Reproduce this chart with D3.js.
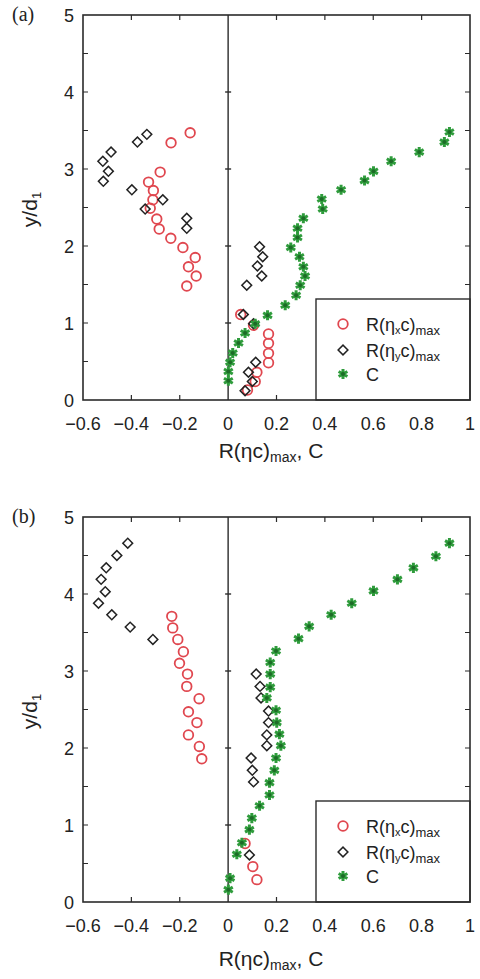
<!DOCTYPE html>
<html>
<head>
<meta charset="utf-8">
<script src="https://cdn.jsdelivr.net/npm/d3@7"></script>
<style>
  body { margin: 0; background: #fff; }
  svg { display: block; }
</style>
</head>
<body>
<div id="chart"></div>
<script>
// tick labels
const xTicks = [-0.6, -0.4, -0.2, 0, 0.2, 0.4, 0.6, 0.8, 1];
const yTicks = [0, 1, 2, 3, 4, 5];

// panel (a) : [R(eta c)max or C, y/d1]
const rxA = [[-0.157,3.47],[-0.236,3.34],[-0.281,2.96],[-0.329,2.83],[-0.309,2.72],[-0.311,2.60],
  [-0.322,2.49],[-0.295,2.35],[-0.285,2.22],[-0.237,2.10],[-0.187,1.98],[-0.136,1.85],
  [-0.164,1.73],[-0.132,1.61],[-0.171,1.48],
  [0.052,1.11],[0.105,0.97],[0.167,0.857],[0.167,0.736],[0.167,0.606],[0.167,0.484],
  [0.119,0.36],[0.112,0.24],[0.08,0.13]];
const ryA = [[-0.336,3.45],[-0.375,3.35],[-0.484,3.22],[-0.518,3.10],[-0.495,2.97],[-0.516,2.84],
  [-0.398,2.73],[-0.270,2.60],[-0.343,2.48],[-0.171,2.36],[-0.171,2.23],
  [0.130,1.99],[0.143,1.86],[0.121,1.74],[0.139,1.61],[0.077,1.49],[0.063,1.11],
  [0.105,0.99],[0.114,0.49],[0.084,0.36],[0.100,0.24],[0.070,0.12]];
const cA = [[0.915,3.48],[0.894,3.35],[0.790,3.22],[0.674,3.10],[0.601,2.97],[0.564,2.85],
  [0.467,2.73],[0.387,2.61],[0.391,2.48],[0.311,2.36],[0.287,2.23],[0.287,2.11],
  [0.259,1.98],[0.295,1.86],[0.311,1.73],[0.318,1.61],[0.298,1.49],[0.281,1.36],
  [0.236,1.23],[0.163,1.10],[0.112,0.99],[0.070,0.87],[0.043,0.74],[0.019,0.61],
  [0.008,0.49],[0.001,0.37],[0.001,0.25]];

// panel (b)
const rxB = [[-0.233,3.71],[-0.229,3.56],[-0.208,3.41],[-0.185,3.25],[-0.201,3.10],[-0.168,2.96],
  [-0.171,2.80],[-0.120,2.64],[-0.164,2.47],[-0.129,2.33],[-0.164,2.17],[-0.119,2.02],
  [-0.109,1.86],
  [0.070,0.76],[0.102,0.46],[0.119,0.29]];
const ryB = [[-0.415,4.66],[-0.460,4.50],[-0.504,4.34],[-0.525,4.19],[-0.508,4.03],[-0.536,3.88],
  [-0.481,3.73],[-0.405,3.57],[-0.311,3.41],
  [0.116,2.96],[0.132,2.80],[0.136,2.65],[0.167,2.48],[0.167,2.33],[0.160,2.17],[0.160,2.03],
  [0.095,1.87],[0.100,1.71],[0.105,1.56],[0.088,0.61]];
const cB = [[0.915,4.66],[0.859,4.49],[0.766,4.34],[0.700,4.19],[0.601,4.04],[0.511,3.88],
  [0.426,3.73],[0.335,3.58],[0.291,3.42],[0.198,3.26],[0.174,3.11],[0.174,2.96],
  [0.174,2.79],[0.160,2.65],[0.198,2.49],[0.201,2.33],[0.212,2.18],[0.218,2.03],
  [0.198,1.87],[0.191,1.71],[0.171,1.55],[0.171,1.39],[0.130,1.25],[0.098,1.09],
  [0.088,0.94],[0.057,0.77],[0.036,0.62],[0.008,0.31],[0.001,0.16]];

const W = 480, H = 979;
const red = "#e0474f", green = "#2f9c3c", dark = "#2b2b2b";
const font = "'Liberation Sans', Arial, Helvetica, sans-serif";

const svg = d3.select("#chart").append("svg")
  .attr("width", W).attr("height", H)
  .attr("viewBox", `0 0 ${W} ${H}`);

const diamond = d3.symbol().type(d3.symbolSquare).size(48)();
const star = d3.symbol().type(d3.symbolAsterisk).size(72)();

const drawPanel = (label, top, bottom, titleY, rx, ry, c) => {
  const x = d3.scaleLinear().domain([-0.6, 1]).range([83, 470]);
  const y = d3.scaleLinear().domain([0, 5]).range([bottom, top]);
  const g = svg.append("g");

  // inner ticks
  const minorY = d3.range(0.5, 5, 0.5);
  g.selectAll(".ty").data(minorY).enter().append("path")
    .attr("d", (d) => `M${x(-0.6)},${y(d)}h5M${x(1)},${y(d)}h-5`)
    .attr("stroke", dark).attr("stroke-width", 1.2);
  const innerX = xTicks.filter((d) => d > -0.6 && d < 1 && d !== 0);
  g.selectAll(".tx").data(innerX).enter().append("path")
    .attr("d", (d) => `M${x(d)},${y(0)}v-5M${x(d)},${y(5)}v5`)
    .attr("stroke", dark).attr("stroke-width", 1.2);

  // zero line with crossing ticks
  g.append("line")
    .attr("x1", x(0)).attr("x2", x(0)).attr("y1", y(0)).attr("y2", y(5))
    .attr("stroke", dark).attr("stroke-width", 1.4);
  g.selectAll(".tz").data([1, 2, 3, 4]).enter().append("path")
    .attr("d", (d) => `M${x(0) - 3},${y(d)}h6`)
    .attr("stroke", dark).attr("stroke-width", 1.4);

  // legend box
  const lx = 316, ly = bottom - 101;
  g.append("rect")
    .attr("x", lx).attr("y", ly).attr("width", x(1) - lx).attr("height", bottom - ly)
    .attr("fill", "#fff").attr("stroke", dark).attr("stroke-width", 1.4);

  // markers
  g.selectAll(".rx").data(rx).enter().append("circle")
    .attr("cx", (d) => x(d[0])).attr("cy", (d) => y(d[1])).attr("r", 4.8)
    .attr("fill", "none").attr("stroke", red).attr("stroke-width", 1.8);
  g.selectAll(".ry").data(ry).enter().append("path")
    .attr("d", diamond)
    .attr("transform", (d) => `translate(${x(d[0])},${y(d[1])}) rotate(45)`)
    .attr("fill", "none").attr("stroke", "#222").attr("stroke-width", 1.5);
  const cs = g.selectAll(".c").data(c).enter().append("g")
    .attr("transform", (d) => `translate(${x(d[0])},${y(d[1])})`);
  cs.append("path").attr("d", star)
    .attr("stroke", green).attr("stroke-width", 3).attr("fill", "none");
  cs.append("circle").attr("r", 2).attr("fill", "#1d6b27");

  // frame
  g.append("rect")
    .attr("x", x(-0.6)).attr("y", y(5)).attr("width", x(1) - x(-0.6)).attr("height", y(0) - y(5))
    .attr("fill", "none").attr("stroke", dark).attr("stroke-width", 1.6);

  // legend entries
  const rows = [
    { sub: "x", draw: (s) => s.append("circle").attr("r", 4.8).attr("fill", "none").attr("stroke", red).attr("stroke-width", 1.8) },
    { sub: "y", draw: (s) => s.append("path").attr("d", diamond).attr("transform", "rotate(45)").attr("fill", "none").attr("stroke", "#222").attr("stroke-width", 1.5) },
    { sub: null, draw: (s) => { s.append("path").attr("d", star).attr("stroke", green).attr("stroke-width", 3); s.append("circle").attr("r", 2).attr("fill", "#1d6b27"); } }
  ];
  const rowY = [bottom - 76, bottom - 50, bottom - 26];
  rows.forEach((r, i) => {
    const s = g.append("g").attr("transform", `translate(343,${rowY[i]})`);
    r.draw(s);
    const t = g.append("text").attr("x", 366).attr("y", rowY[i] + 6.5)
      .attr("font-family", font).attr("font-size", 18).attr("fill", "#222");
    if (r.sub) {
      t.append("tspan").text("R(η");
      t.append("tspan").attr("font-size", 11).attr("dy", 3).text(r.sub);
      t.append("tspan").attr("dy", -3).text("c)");
      t.append("tspan").attr("font-size", 13).attr("dy", 4).text("max");
    } else {
      t.text("C");
    }
  });

  // tick labels
  g.selectAll(".lx").data(xTicks).enter().append("text")
    .attr("x", (d) => x(d)).attr("y", bottom + 30)
    .attr("text-anchor", "middle").attr("font-family", font).attr("font-size", 18)
    .attr("fill", "#222")
    .text((d) => (d < 0 ? "−" + Math.abs(d) : String(d)));
  g.selectAll(".ly").data(yTicks).enter().append("text")
    .attr("x", 74).attr("y", (d) => y(d) + 6.5)
    .attr("text-anchor", "end").attr("font-family", font).attr("font-size", 18)
    .attr("fill", "#222")
    .text((d) => d);

  // axis titles
  const xt = g.append("text").attr("x", 271).attr("y", titleY)
    .attr("text-anchor", "middle").attr("font-family", font).attr("font-size", 21).attr("fill", "#222");
  xt.append("tspan").text("R(ηc)");
  xt.append("tspan").attr("font-size", 14).attr("dy", 4).text("max");
  xt.append("tspan").attr("dy", -4).text(", C");

  const yt = g.append("text")
    .attr("transform", `translate(37,${(top + bottom) / 2 + 2}) rotate(-90)`)
    .attr("text-anchor", "middle").attr("font-family", font).attr("font-size", 21).attr("fill", "#222");
  yt.append("tspan").text("y/d");
  yt.append("tspan").attr("font-size", 13).attr("dy", 4).text("1");

  // panel label
  g.append("text").attr("x", 12).attr("y", top + 6)
    .attr("font-family", "'Liberation Serif', 'Times New Roman', serif").attr("font-size", 20)
    .attr("fill", "#222").text(label);
};

drawPanel("(a)", 15, 400, 458, rxA, ryA, cA);
drawPanel("(b)", 517, 902, 966, rxB, ryB, cB);
</script>
</body>
</html>
